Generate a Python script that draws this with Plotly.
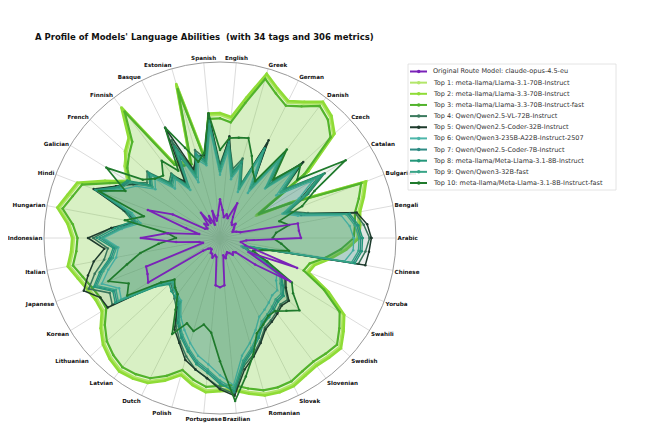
import plotly.graph_objects as go

W, H = 648, 440

tags = ["Arabic", "Bengali", "Bulgarian", "Catalan", "Czech", "Danish", "German", "Greek",
        "English", "Spanish", "Estonian", "Basque", "Finnish", "French", "Galician", "Hindi",
        "Hungarian", "Indonesian", "Italian", "Japanese", "Korean", "Lithuanian", "Latvian",
        "Dutch", "Polish", "Portuguese", "Brazilian", "Romanian", "Slovak", "Slovenian",
        "Swedish", "Swahili", "Yoruba", "Chinese"]

model_names = [
    "Original Route Model: claude-opus-4.5-eu",
    "Top 1: meta-llama/Llama-3.1-70B-Instruct",
    "Top 2: meta-llama/Llama-3.3-70B-Instruct",
    "Top 3: meta-llama/Llama-3.3-70B-Instruct-fast",
    "Top 4: Qwen/Qwen2.5-VL-72B-Instruct",
    "Top 5: Qwen/Qwen2.5-Coder-32B-Instruct",
    "Top 6: Qwen/Qwen3-235B-A22B-Instruct-2507",
    "Top 7: Qwen/Qwen2.5-Coder-7B-Instruct",
    "Top 8: meta-llama/Meta-Llama-3.1-8B-Instruct",
    "Top 9: Qwen/Qwen3-32B-fast",
    "Top 10: meta-llama/Meta-Llama-3.1-8B-Instruct-fast",
]

# scores sampled at two positions per tag (tag centre, half-way to next tag)
original = [
    0.46, 0.45, 0.45, 0.12, 0.10, 0.08, 0.09, 0.10, 0.12, 0.10,
    0.11, 0.14, 0.22, 0.12, 0.14, 0.12, 0.16, 0.22, 0.13, 0.10,
    0.16, 0.08, 0.14, 0.10, 0.18, 0.10, 0.12, 0.09, 0.10, 0.30,
    0.44, 0.20, 0.12, 0.30, 0.45, 0.25, 0.12, 0.10, 0.45, 0.46,
    0.48, 0.12, 0.09, 0.08, 0.08, 0.10, 0.10, 0.12, 0.10, 0.11,
    0.27, 0.28, 0.27, 0.10, 0.12, 0.10, 0.09, 0.10, 0.12, 0.11,
    0.12, 0.25, 0.47, 0.18, 0.47, 0.15, 0.12, 0.15]
top1 = [
    0.78, 0.79, 0.80, 0.84, 0.88, 0.45, 0.24, 0.62, 0.87, 0.93,
    0.96, 0.90, 0.86, 0.90, 0.96, 0.80, 0.68, 0.70, 0.70, 0.45,
    0.90, 0.46, 0.47, 0.50, 0.92, 0.76, 0.72, 0.68, 0.62, 0.72,
    0.86, 0.89, 0.93, 0.86, 0.83, 0.84, 0.87, 0.83, 0.80, 0.78,
    0.78, 0.84, 0.89, 0.92, 0.94, 0.93, 0.91, 0.86, 0.80, 0.84,
    0.87, 0.86, 0.86, 0.89, 0.92, 0.93, 0.93, 0.91, 0.90, 0.91,
    0.92, 0.87, 0.82, 0.68, 0.53, 0.55, 0.63, 0.71]
top2 = [
    0.79, 0.80, 0.81, 0.85, 0.89, 0.46, 0.25, 0.63, 0.88, 0.94,
    0.97, 0.91, 0.87, 0.91, 0.97, 0.81, 0.69, 0.71, 0.71, 0.46,
    0.91, 0.47, 0.48, 0.51, 0.93, 0.77, 0.73, 0.67, 0.61, 0.73,
    0.87, 0.90, 0.94, 0.87, 0.84, 0.85, 0.88, 0.84, 0.81, 0.79,
    0.79, 0.85, 0.90, 0.93, 0.95, 0.94, 0.92, 0.87, 0.81, 0.85,
    0.88, 0.87, 0.87, 0.90, 0.93, 0.94, 0.94, 0.92, 0.91, 0.92,
    0.93, 0.88, 0.83, 0.69, 0.54, 0.56, 0.64, 0.72]
top3 = [
    0.76, 0.77, 0.78, 0.82, 0.86, 0.44, 0.26, 0.60, 0.85, 0.91,
    0.94, 0.88, 0.84, 0.88, 0.94, 0.78, 0.66, 0.68, 0.68, 0.44,
    0.88, 0.45, 0.46, 0.49, 0.90, 0.74, 0.70, 0.66, 0.60, 0.70,
    0.84, 0.87, 0.91, 0.84, 0.81, 0.82, 0.85, 0.81, 0.78, 0.76,
    0.76, 0.82, 0.87, 0.90, 0.92, 0.91, 0.89, 0.84, 0.78, 0.82,
    0.85, 0.84, 0.84, 0.87, 0.90, 0.91, 0.91, 0.89, 0.88, 0.89,
    0.90, 0.85, 0.80, 0.66, 0.51, 0.53, 0.61, 0.69]
top4 = [
    0.85, 0.82, 0.78, 0.52, 0.42, 0.56, 0.70, 0.46, 0.63, 0.44,
    0.60, 0.36, 0.60, 0.33, 0.47, 0.40, 0.56, 0.42, 0.70, 0.46,
    0.52, 0.40, 0.62, 0.36, 0.46, 0.43, 0.56, 0.52, 0.60, 0.66,
    0.76, 0.57, 0.50, 0.62, 0.72, 0.64, 0.67, 0.74, 0.80, 0.70,
    0.72, 0.44, 0.38, 0.40, 0.43, 0.47, 0.56, 0.63, 0.70, 0.76,
    0.80, 0.85, 0.89, 0.74, 0.69, 0.63, 0.57, 0.55, 0.53, 0.51,
    0.52, 0.46, 0.43, 0.26, 0.15, 0.21, 0.80, 0.83]
top5 = [
    0.86, 0.84, 0.79, 0.50, 0.40, 0.52, 0.66, 0.44, 0.64, 0.40,
    0.58, 0.34, 0.62, 0.30, 0.44, 0.36, 0.58, 0.40, 0.71, 0.48,
    0.48, 0.42, 0.70, 0.38, 0.44, 0.42, 0.54, 0.50, 0.58, 0.66,
    0.77, 0.56, 0.48, 0.62, 0.75, 0.66, 0.73, 0.78, 0.83, 0.76,
    0.75, 0.42, 0.36, 0.38, 0.40, 0.46, 0.58, 0.64, 0.72, 0.76,
    0.80, 0.86, 0.90, 0.76, 0.70, 0.64, 0.58, 0.56, 0.54, 0.52,
    0.53, 0.47, 0.44, 0.24, 0.14, 0.20, 0.84, 0.85]
top6 = [
    0.76, 0.74, 0.70, 0.46, 0.38, 0.50, 0.62, 0.40, 0.56, 0.38,
    0.54, 0.30, 0.52, 0.28, 0.42, 0.34, 0.50, 0.36, 0.62, 0.42,
    0.46, 0.34, 0.54, 0.32, 0.42, 0.38, 0.50, 0.46, 0.56, 0.62,
    0.72, 0.52, 0.46, 0.56, 0.66, 0.58, 0.60, 0.66, 0.72, 0.64,
    0.66, 0.42, 0.36, 0.38, 0.40, 0.42, 0.50, 0.56, 0.62, 0.68,
    0.72, 0.78, 0.84, 0.68, 0.62, 0.56, 0.50, 0.48, 0.46, 0.44,
    0.44, 0.40, 0.38, 0.22, 0.13, 0.18, 0.72, 0.76]
top7 = [
    0.80, 0.78, 0.74, 0.48, 0.40, 0.54, 0.68, 0.44, 0.60, 0.40,
    0.58, 0.34, 0.56, 0.31, 0.44, 0.37, 0.54, 0.39, 0.66, 0.44,
    0.50, 0.38, 0.52, 0.34, 0.44, 0.41, 0.54, 0.49, 0.61, 0.64,
    0.75, 0.54, 0.49, 0.58, 0.68, 0.60, 0.63, 0.70, 0.76, 0.67,
    0.69, 0.45, 0.37, 0.39, 0.41, 0.44, 0.53, 0.60, 0.66, 0.72,
    0.76, 0.82, 0.88, 0.72, 0.66, 0.60, 0.54, 0.52, 0.50, 0.48,
    0.48, 0.44, 0.41, 0.25, 0.14, 0.19, 0.77, 0.80]
top8 = [
    0.81, 0.79, 0.75, 0.50, 0.41, 0.55, 0.69, 0.45, 0.61, 0.41,
    0.59, 0.35, 0.57, 0.32, 0.45, 0.38, 0.55, 0.40, 0.67, 0.45,
    0.49, 0.39, 0.58, 0.35, 0.45, 0.42, 0.55, 0.50, 0.62, 0.65,
    0.76, 0.55, 0.51, 0.60, 0.70, 0.61, 0.64, 0.71, 0.77, 0.68,
    0.70, 0.46, 0.39, 0.41, 0.42, 0.45, 0.54, 0.61, 0.67, 0.73,
    0.77, 0.83, 0.87, 0.73, 0.67, 0.61, 0.55, 0.53, 0.51, 0.49,
    0.49, 0.45, 0.41, 0.26, 0.15, 0.20, 0.78, 0.81]
top9 = [
    0.79, 0.77, 0.73, 0.49, 0.39, 0.53, 0.66, 0.43, 0.59, 0.39,
    0.57, 0.33, 0.55, 0.30, 0.43, 0.36, 0.53, 0.38, 0.65, 0.43,
    0.48, 0.37, 0.56, 0.34, 0.43, 0.40, 0.53, 0.48, 0.60, 0.63,
    0.74, 0.53, 0.48, 0.57, 0.67, 0.59, 0.62, 0.69, 0.75, 0.66,
    0.68, 0.44, 0.37, 0.39, 0.41, 0.43, 0.52, 0.59, 0.65, 0.71,
    0.75, 0.81, 0.86, 0.71, 0.65, 0.59, 0.53, 0.51, 0.49, 0.47,
    0.47, 0.43, 0.40, 0.24, 0.14, 0.19, 0.76, 0.79]
top10 = [
    0.30, 0.32, 0.40, 0.35, 0.50, 0.60, 0.84, 0.55, 0.62, 0.45,
    0.63, 0.38, 0.42, 0.50, 0.59, 0.58, 0.57, 0.50, 0.71, 0.49,
    0.45, 0.55, 0.70, 0.45, 0.55, 0.48, 0.50, 0.55, 0.76, 0.60,
    0.74, 0.45, 0.55, 0.30, 0.25, 0.35, 0.46, 0.55, 0.68, 0.58,
    0.62, 0.42, 0.35, 0.38, 0.40, 0.48, 0.61, 0.52, 0.55, 0.50,
    0.54, 0.70, 0.93, 0.80, 0.69, 0.58, 0.55, 0.52, 0.52, 0.56,
    0.61, 0.52, 0.48, 0.30, 0.20, 0.25, 0.40, 0.35]

series = [original, top1, top2, top3, top4, top5, top6, top7, top8, top9, top10]
colors = ["#7a22b8", "#b3e66a", "#8fdc36", "#52b32c", "#3b7a5e", "#1e3b2d",
          "#4db6aa", "#2e8b84", "#24977a", "#38a487", "#1f7a2c"]
widths = [1.8, 2.6, 2.6, 2.2, 1.5, 1.5, 1.4, 1.4, 1.4, 1.4, 1.7]
fill_alphas = [0.04, 0.12, 0.12, 0.11, 0.075, 0.075, 0.075, 0.075, 0.075, 0.075, 0.075]


def rgba(hex_color, a):
    h = hex_color.lstrip("#")
    return "rgba(%d,%d,%d,%.3f)" % (int(h[0:2], 16), int(h[2:4], 16), int(h[4:6], 16), a)


n_pts = len(top1)
theta = [i * 360.0 / n_pts for i in range(n_pts)]
tag_theta = [i * 360.0 / len(tags) for i in range(len(tags))]

fig = go.Figure()
draw_order = list(range(1, len(series))) + [0]
for idx in draw_order:
    vals = series[idx]
    fig.add_trace(go.Scatterpolar(
        r=vals + [vals[0]],
        theta=theta + [theta[0]],
        mode="lines+markers",
        line=dict(color=colors[idx], width=widths[idx]),
        marker=dict(size=2.5, color=colors[idx]),
        fill="toself",
        fillcolor=rgba(colors[idx], fill_alphas[idx]),
        name=model_names[idx],
        showlegend=False,
    ))

cx, cy, R = 212, 230, 176
fig.update_layout(
    width=W, height=H,
    margin=dict(l=0, r=0, t=0, b=0),
    paper_bgcolor="white",
    font=dict(family="DejaVu Sans", color="#111"),
    title=dict(text="<b>A Profile of Models' Language Abilities  (with 34 tags and 306 metrics)</b>",
               x=27 / W, xanchor="left", y=1 - 29 / H, yanchor="middle",
               font=dict(family="DejaVu Sans", size=8.5, color="#111")),
    polar=dict(
        domain=dict(x=[(cx - R) / W, (cx + R) / W], y=[(H - cy - R) / H, (H - cy + R) / H]),
        bgcolor="white",
        angularaxis=dict(
            direction="counterclockwise", rotation=0,
            tickmode="array", tickvals=tag_theta, ticktext=tags,
            tickfont=dict(family="DejaVu Sans", size=5.6, color="#111", weight="bold"),
            showline=True, linecolor="#9a9a9a", linewidth=1,
            showgrid=True, gridcolor="#dcdcdc", gridwidth=0.8,
            ticks="",
        ),
        radialaxis=dict(range=[0, 1], showgrid=False, showticklabels=False,
                        showline=False, ticks=""),
    ),
)

# legend drawn as shapes + annotations
lx0, ly0, lx1, ly1 = 400, 56, 608, 182
shapes = [dict(type="rect", xref="paper", yref="paper",
               x0=lx0 / W, x1=lx1 / W, y0=1 - ly1 / H, y1=1 - ly0 / H,
               line=dict(color="#dddddd", width=0.8), fillcolor="rgba(255,255,255,0.85)")]
annotations = []
for i, name in enumerate(model_names):
    yy = 63.5 + i * 11.15
    shapes.append(dict(type="line", xref="paper", yref="paper",
                       x0=402 / W, x1=419 / W, y0=1 - yy / H, y1=1 - yy / H,
                       line=dict(color=colors[i], width=2)))
    shapes.append(dict(type="circle", xref="paper", yref="paper",
                       x0=409 / W, x1=412.5 / W, y0=1 - (yy + 1.75) / H, y1=1 - (yy - 1.75) / H,
                       line=dict(color=colors[i], width=0), fillcolor=colors[i]))
    annotations.append(dict(text=name, xref="paper", yref="paper", x=423 / W, y=1 - yy / H,
                            xanchor="left", yanchor="middle", showarrow=False,
                            font=dict(family="DejaVu Sans", size=6.5, color="#333")))
fig.update_layout(shapes=shapes, annotations=annotations)

fig.write_html("out.html")
